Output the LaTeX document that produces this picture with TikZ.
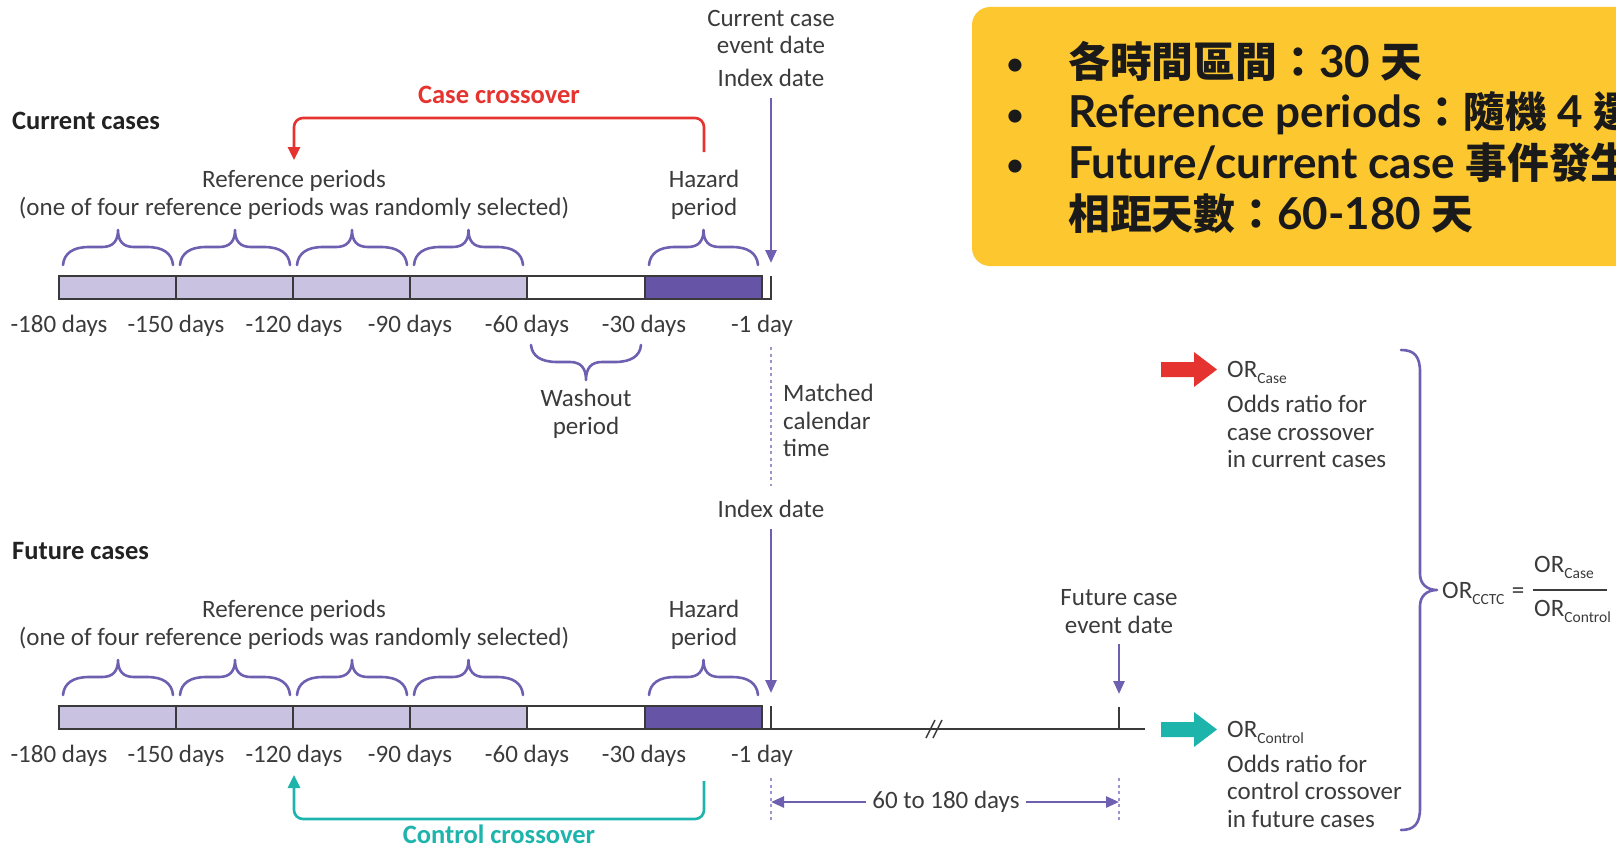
\documentclass[tikz,border=0pt]{standalone}
\usepackage{fontspec}
\setmainfont{Carlito}
\newfontfamily\boxfont{Lato}
\newfontfamily\cjkfont{Noto Sans CJK TC}[Scale=0.95]
\usetikzlibrary{arrows.meta}
\definecolor{txt}{HTML}{3B3B3B}
\definecolor{boldtxt}{HTML}{222222}
\definecolor{purp}{HTML}{6E5FB0}
\definecolor{lightp}{HTML}{C9C3E1}
\definecolor{darkp}{HTML}{6655A6}
\definecolor{dotp}{HTML}{9D93CF}
\definecolor{redc}{HTML}{E53430}
\definecolor{tealc}{HTML}{1DB4AC}
\definecolor{yboxc}{HTML}{FDC72F}
\definecolor{barc}{HTML}{3A3A3A}
\definecolor{boxtxt}{HTML}{1A1A1A}
\newcommand\mysub[1]{\raisebox{-6pt}{\fontsize{15.5}{15.5}\selectfont #1}}
\newcommand\brc[5]{%
 \draw[bracestyle] ({#1},{#3}) .. controls ({#1+1},{#3+0.65*((#5)-(#3))}) and ({#1+10},{#5}) .. ({#1+26},{#5}) -- ({(#1+#2)/2-16},{#5}) .. controls ({(#1+#2)/2-5},{#5}) and ({(#1+#2)/2},{#5+0.35*((#4)-(#5))}) .. ({(#1+#2)/2},{#4}) .. controls ({(#1+#2)/2},{#5+0.35*((#4)-(#5))}) and ({(#1+#2)/2+5},{#5}) .. ({(#1+#2)/2+16},{#5}) -- ({#2-26},{#5}) .. controls ({#2-10},{#5}) and ({#2-1},{#3+0.65*((#5)-(#3))}) .. ({#2},{#3});}
\newcommand\tline[2]{%
 \foreach \xa/\xb/\fc in {59/176/lightp,176/293/lightp,293/410/lightp,410/527/lightp,527/645/white,645/762/darkp}
   \draw[barline, fill=\fc] ({\xa},{#1}) rectangle ({\xb},{#1+23});
 \draw[barline] (762,{#1+23}) -- (771,{#1+23}) -- (771,{#1});
 \foreach \x/\t in {59/-180 days,176/-150 days,294/-120 days,410/-90 days,527/-60 days,644/-30 days,762/-1 day}
   \node[lab] (#2l\x) at ({\x},{#1+56}) {\t};
 \brc{63}{173}{(#1-11)}{(#1-46)}{(#1-29)}
 \brc{180}{290}{(#1-11)}{(#1-46)}{(#1-29)}
 \brc{297}{407}{(#1-11)}{(#1-46)}{(#1-29)}
 \brc{414}{523}{(#1-11)}{(#1-46)}{(#1-29)}
 \brc{649}{758}{(#1-11)}{(#1-46)}{(#1-29)}
}
\begin{document}
\begin{tikzpicture}[x=1pt,y=-1pt,
  lab/.style={font=\fontsize{25}{29}\selectfont, text=txt, inner sep=0pt, anchor=base},
  labl/.style={lab, anchor=base west},
  boldlab/.style={font=\fontsize{26.5}{30}\selectfont\bfseries, text=boldtxt, inner sep=0pt, anchor=base},
  boxt/.style={font=\boxfont\bfseries\fontsize{44}{48}\selectfont, text=boxtxt, inner sep=0pt, anchor=base west},
  bullt/.style={font=\boxfont\bfseries\fontsize{30}{30}\selectfont, text=boxtxt, inner sep=0pt, anchor=base},
  barline/.style={draw=barc, line width=1.5pt},
  bracestyle/.style={draw=purp, line width=2.6pt, line cap=round, line join=round},
  arr/.style={draw=purp, line width=2.6pt, -{Triangle[length=13pt,width=11pt]}},
  dotline/.style={draw=dotp, line width=2.2pt, dash pattern=on 3pt off 3.5pt},
  bracket/.style={line width=2.6pt, rounded corners=9pt, -{Triangle[length=13pt,width=12pt]}}
]
\useasboundingbox (0,0) rectangle (1616,848);

% ---------- yellow box ----------
\begin{scope}
\clip (0,0) rectangle (1616,848);
\fill[yboxc, rounded corners=18pt] (972,7) rectangle (1680,266);
\node[bullt] (bl1) at (1015,75) {•};
\node[bullt] (bl2) at (1015,125) {•};
\node[bullt] (bl3) at (1015,175) {•};
\node[boxt] (bx1) at (1068,78) {{\cjkfont 各時間區間：}30 {\cjkfont 天}};
\node[boxt] (bx2) at (1068,128) {Reference periods{\cjkfont ：隨機} 4 {\cjkfont 選}};
\node[boxt] (bx3) at (1068,178) {Future/current case {\cjkfont 事件發生}};
\node[boxt] (bx4) at (1068,229) {{\cjkfont 相距天數：}60-180 {\cjkfont 天}};
\end{scope}

% ---------- top section ----------
\node[lab] (cc1) at (771,27) {Current case};
\node[lab] (cc2) at (771,54) {event date};
\node[lab] (idx1) at (771,87) {Index date};
\node[boldlab, text=redc] (casec) at (499,104) {Case crossover};
\node[boldlab, anchor=base west] (curc) at (12,130) {Current cases};
\node[lab] (ref1) at (294,187) {Reference periods};
\node[lab] (ref1b) at (294,215) {(one of four reference periods was randomly selected)};
\node[lab] (haz1) at (704,187) {Hazard};
\node[lab] (haz1b) at (704,215) {period};
\tline{276}{a}
\coordinate (tip1) at (771,263);
\draw[arr, shorten <=11pt] (idx1.south) -- (tip1);
\coordinate (rs1) at (704,152);
\coordinate (re1) at (294,160);
\draw[bracket, draw=redc, fill=none] (rs1) -- (704,118) -- (294,118) -- (re1);

% washout
\brc{531}{641}{345}{380}{362}
\node[lab] (wash) at (586,406) {Washout};
\node[lab] (washb) at (586,434) {period};

% matched calendar time
\coordinate (dm1) at (771,347);
\coordinate (dm2) at (771,486);
\draw[dotline] (dm1) -- (dm2);
\node[labl] (mt1) at (783,401) {Matched};
\node[labl] (mt2) at (783,429) {calendar};
\node[labl] (mt3) at (783,456) {time};
\node[lab] (idx2) at (771,517) {Index date};
\node[boldlab, anchor=base west] (futc) at (12,559) {Future cases};

% ---------- bottom section ----------
\node[lab] (ref2) at (294,617) {Reference periods};
\node[lab] (ref2b) at (294,645) {(one of four reference periods was randomly selected)};
\node[lab] (haz2) at (704,617) {Hazard};
\node[lab] (haz2b) at (704,645) {period};
\tline{706}{b}
\coordinate (tip2) at (771,693);
\draw[arr, shorten <=12pt] (idx2.south) -- (tip2);
\coordinate (lend) at (1145,729);
\draw[barline] (771,729) -- (lend);
\draw[barline] (926,738) -- (935,720);
\draw[barline] (933,738) -- (942,720);
\node[lab] (fc1) at (1119,605) {Future case};
\node[lab] (fc2) at (1119,633) {event date};
\coordinate (tip3) at (1119,694);
\draw[arr, shorten <=11pt] (fc2.south) -- (tip3);
\draw[barline] (1119,707) -- (1119,729);

% 60 to 180 days
\coordinate (d60a) at (771,778);
\coordinate (d60b) at (771,820);
\coordinate (d60c) at (1119,778);
\coordinate (d60d) at (1119,820);
\draw[dotline] (d60a) -- (d60b);
\draw[dotline] (d60c) -- (d60d);
\node[lab, anchor=center, inner xsep=6pt] (t60) at (946,802) {60 to 180 days};
\draw[arr] (t60.west) -- (771,802);
\draw[arr] (t60.east) -- (1119,802);

% control crossover bracket
\coordinate (ts1) at (704,781);
\coordinate (te1) at (294,775);
\draw[bracket, draw=tealc] (ts1) -- (704,819) -- (294,819) -- (te1);
\node[boldlab, text=tealc] (ctrlc) at (499,843) {Control crossover};

% ---------- right part ----------
\fill[redc] (1161,362) -- (1194,362) -- (1194,352) -- (1217,369.5) -- (1194,387) -- (1194,377) -- (1161,377) -- cycle;
\fill[tealc] (1161,722) -- (1194,722) -- (1194,712) -- (1217,729.5) -- (1194,747) -- (1194,737) -- (1161,737) -- cycle;

\node[labl] (orcase) at (1227,377) {OR\mysub{Case}};
\node[labl] (oc1) at (1227,412) {Odds ratio for};
\node[labl] (oc2) at (1227,440) {case crossover};
\node[labl] (oc3) at (1227,467) {in current cases};
\node[labl] (orctrl) at (1227,737) {OR\mysub{Control}};
\node[labl] (ot1) at (1227,772) {Odds ratio for};
\node[labl] (ot2) at (1227,799) {control crossover};
\node[labl] (ot3) at (1227,827) {in future cases};

\draw[bracestyle] (1401,350) .. controls (1414,350) and (1420,356) .. (1420,372) -- (1420,574) .. controls (1420,584) and (1427,590) .. (1437,590) .. controls (1427,590) and (1420,596) .. (1420,606) -- (1420,808) .. controls (1420,824) and (1414,830) .. (1401,830);

\node[labl] (orcctc) at (1442,598) {OR\mysub{CCTC}};
\node[lab] (eqs) at (1518,598) {=};
\node[labl] (num) at (1534,572) {OR\mysub{Case}};
\node[labl] (den) at (1534,616) {OR\mysub{Control}};
\draw[draw=txt, line width=1.6pt] (1533,590) -- (1607,590);
\end{tikzpicture}
\end{document}
